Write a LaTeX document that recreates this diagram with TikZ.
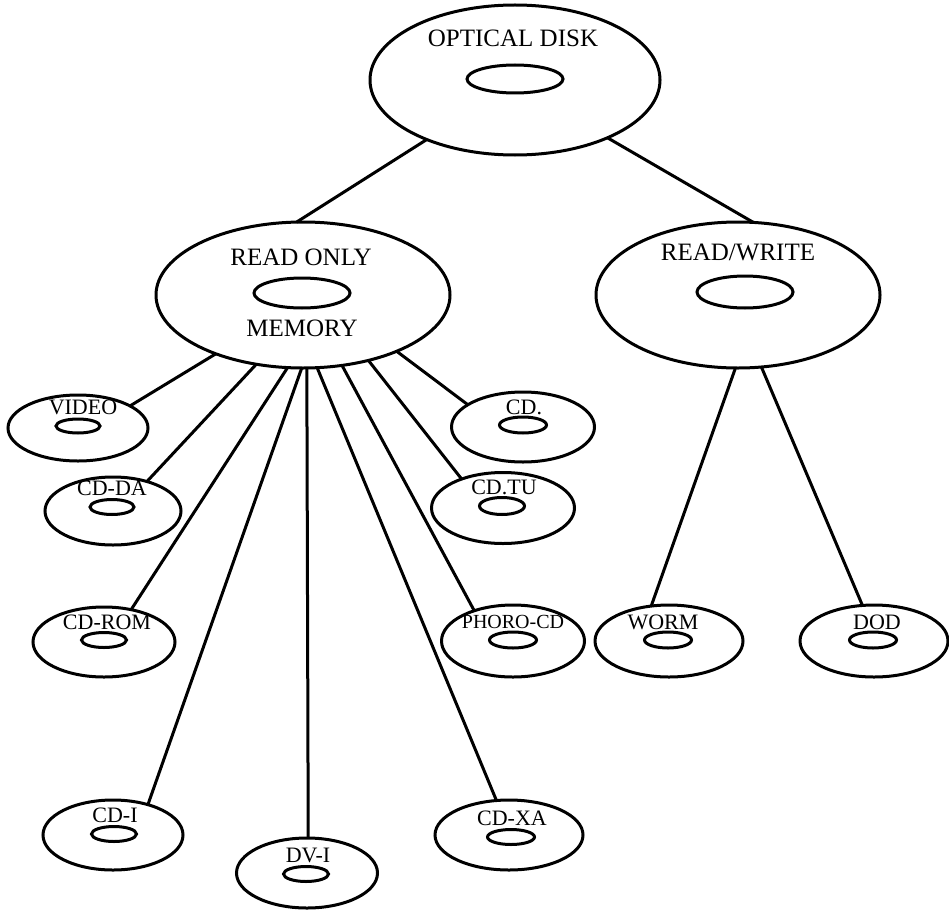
\documentclass[tikz,border=0pt]{standalone}
\usepackage{fontspec}
\setmainfont{Liberation Serif}
\usetikzlibrary{shapes.geometric}
\tikzset{
  disk/.style={ellipse, draw, line width=3pt, fill=white, inner sep=0pt, outer sep=0pt},
  hole/.style={ellipse, draw, line width=3pt, inner sep=0pt},
  biglabel/.style={font=\fontsize{25}{30}\selectfont, inner sep=0pt, text depth=0pt},
  smalllabel/.style={font=\fontsize{22}{26}\selectfont, inner sep=0pt, text depth=0pt},
  link/.style={line width=3pt}
}
\begin{document}
\begin{tikzpicture}[x=1pt,y=-1pt]
\useasboundingbox (0,0) rectangle (949,915);
% main disks
\node[disk, minimum width=290pt, minimum height=150pt] (od) at (515,80) {};
\node[hole, minimum width=96pt, minimum height=28pt] (odh) at (515,79) {};
\node[biglabel] (odt) at (513,38) {OPTICAL DISK};

\node[disk, minimum width=294pt, minimum height=146pt] (rom) at (303,295) {};
\node[hole, minimum width=96pt, minimum height=30pt] (romh) at (302,293) {};
\node[biglabel] (romt) at (301,257) {READ ONLY};
\node[biglabel] (romt2) at (302,328) {MEMORY};

\node[disk, minimum width=284pt, minimum height=146pt] (rw) at (738,295) {};
\node[hole, minimum width=96pt, minimum height=32pt] (rwh) at (745,292) {};
\node[biglabel] (rwt) at (738,252) {READ/WRITE};

% small disks
\node[disk, minimum width=140pt, minimum height=66pt] (video) at (78,428) {};
\node[hole, minimum width=44pt, minimum height=14pt] (videoh) at (78,426) {};
\node[smalllabel] (videot) at (83,407) {VIDEO};

\node[disk, minimum width=136pt, minimum height=68pt] (cdda) at (113,511) {};
\node[hole, minimum width=44pt, minimum height=15pt] (cddah) at (112,507) {};
\node[smalllabel] (cddat) at (112,488) {CD-DA};

\node[disk, minimum width=142pt, minimum height=70pt] (cdrom) at (104,642) {};
\node[hole, minimum width=45pt, minimum height=15pt] (cdromh) at (104,640) {};
\node[smalllabel] (cdromt) at (107,622) {CD-ROM};

\node[disk, minimum width=140pt, minimum height=70pt] (cdi) at (113,835) {};
\node[hole, minimum width=45pt, minimum height=15pt] (cdih) at (114,834) {};
\node[smalllabel] (cdit) at (115,815) {CD-I};

\node[disk, minimum width=141pt, minimum height=70pt] (dvi) at (307,873) {};
\node[hole, minimum width=45pt, minimum height=15pt] (dvih) at (306,874) {};
\node[smalllabel] (dvit) at (308,855) {DV-I};

\node[disk, minimum width=148pt, minimum height=70pt] (cdxa) at (509,835) {};
\node[hole, minimum width=47pt, minimum height=15pt] (cdxah) at (511,837) {};
\node[smalllabel] (cdxat) at (512,818) {CD-XA};

\node[disk, minimum width=143pt, minimum height=72pt] (phoro) at (513,641) {};
\node[hole, minimum width=47pt, minimum height=16pt] (phoroh) at (513,640) {};
\node[smalllabel, font=\fontsize{20}{24}\selectfont] (phorot) at (513,622) {PHORO-CD};

\node[disk, minimum width=143pt, minimum height=71pt] (cdtu) at (503,508) {};
\node[hole, minimum width=45pt, minimum height=17pt] (cdtuh) at (502,506) {};
\node[smalllabel] (cdtut) at (504,487) {CD.TU};

\node[disk, minimum width=143pt, minimum height=70pt] (cd) at (523,427) {};
\node[hole, minimum width=47pt, minimum height=16pt] (cdh) at (523,425) {};
\node[smalllabel] (cdt) at (524,407) {CD.};

\node[disk, minimum width=148pt, minimum height=72pt] (worm) at (669,641) {};
\node[hole, minimum width=47pt, minimum height=16pt] (wormh) at (668,640) {};
\node[smalllabel] (wormt) at (663,622) {WORM};

\node[disk, minimum width=148pt, minimum height=72pt] (dod) at (874,641) {};
\node[hole, minimum width=47pt, minimum height=16pt] (dodh) at (873,640) {};
\node[smalllabel] (dodt) at (877,622) {DOD};

% connectors
\draw[link] (od.214) -- (rom.95);
\draw[link] (od.328) -- (rw.78);

\draw[link] (rom.214) -- (video.23);
\draw[link] (rom.236) -- (cdda.41);
\draw[link] (rom.258) -- (cdrom.50);
\draw[link] (rom.269) -- (cdi.41);
\draw[link] (rom.273) -- (dvi.88);
\draw[link] (rom.281.5) -- (cdxa.110);
\draw[link] (rom.299) -- (phoro.142);
\draw[link] (rom.315) -- (cdtu.145);
\draw[link] (rom.329) -- (cd.158);

\draw[link] (rw.268) -- (worm.117);
\draw[link] (rw.288) -- (dod.108);
\end{tikzpicture}
\end{document}
